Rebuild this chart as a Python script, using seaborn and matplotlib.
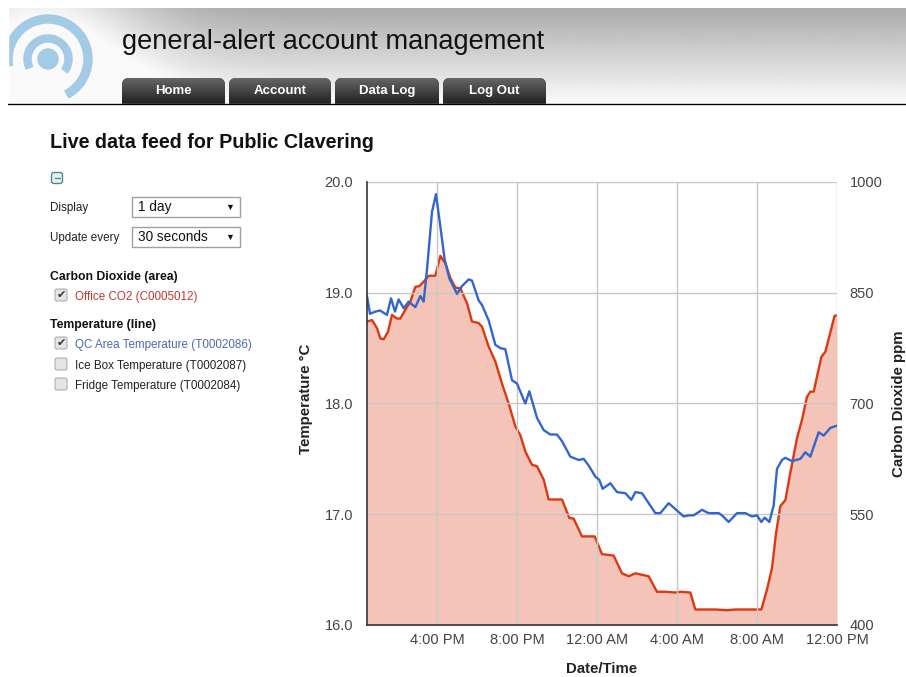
import numpy as np
import pandas as pd
import seaborn as sns
import matplotlib
matplotlib.use("Agg")
import matplotlib.pyplot as plt
import matplotlib.dates as mdates
from matplotlib.patches import FancyBboxPatch, Rectangle, Wedge, Circle

# values (times are clock times, the day rolls over at midnight)
temp_times = ["12:30", "12:39", "12:55", "13:09", "13:30", "13:42", "13:54", "14:05", "14:20", "14:35",
              "14:55", "15:10", "15:20", "15:30", "15:45", "15:57", "16:10", "16:23", "16:37", "17:00",
              "17:15", "17:35", "17:45", "18:05", "18:15", "18:35", "18:55", "19:10", "19:25", "19:45",
              "20:00", "20:25", "20:37", "21:00", "21:20", "21:40", "22:00", "22:15", "22:40", "23:05",
              "23:20", "23:35", "23:55", "00:07", "00:17", "00:40", "01:00", "01:25", "01:43", "01:55",
              "02:15", "02:35", "02:55", "03:10", "03:35", "03:50", "04:20", "04:35", "04:50", "05:15",
              "05:35", "06:05", "06:15", "06:35", "07:00", "07:25", "07:45", "08:00", "08:13", "08:23",
              "08:37", "08:50", "09:00", "09:15", "09:25", "09:45", "10:10", "10:25", "10:40", "11:05",
              "11:20", "11:40", "12:00"]
temp_values = [18.97, 18.81, 18.83, 18.84, 18.80, 18.95, 18.83, 18.94, 18.86, 18.92,
               18.87, 18.97, 18.92, 19.21, 19.73, 19.89, 19.60, 19.30, 19.13, 18.99,
               19.06, 19.12, 19.11, 18.93, 18.89, 18.75, 18.53, 18.50, 18.49, 18.21,
               18.18, 18.00, 18.11, 17.87, 17.76, 17.72, 17.72, 17.66, 17.52, 17.49,
               17.50, 17.44, 17.34, 17.31, 17.23, 17.28, 17.20, 17.19, 17.13, 17.20,
               17.19, 17.10, 17.01, 17.01, 17.10, 17.06, 16.98, 16.99, 16.99, 17.04,
               17.01, 17.01, 16.99, 16.93, 17.01, 17.01, 16.98, 16.99, 16.93, 16.97,
               16.93, 17.08, 17.41, 17.49, 17.51, 17.48, 17.50, 17.56, 17.52, 17.74,
               17.71, 17.78, 17.80]

co2_times = ["12:30", "12:45", "13:00", "13:10", "13:20", "13:33", "13:45", "14:00", "14:10", "14:25",
             "14:40", "14:55", "15:07", "15:20", "15:35", "15:55", "16:10", "16:25", "16:40", "16:55",
             "17:10", "17:30", "17:45", "18:05", "18:15", "18:35", "18:55", "19:15", "19:35", "19:55",
             "20:10", "20:25", "20:45", "21:00", "21:20", "21:35", "21:55", "22:15", "22:37", "22:50",
             "23:15", "23:35", "23:53", "00:15", "00:50", "01:15", "01:35", "01:55", "02:35", "03:00",
             "03:25", "03:55", "04:10", "04:40", "04:55", "05:25", "05:55", "06:30", "06:55", "07:35",
             "08:13", "08:30", "08:45", "08:57", "09:10", "09:25", "09:40", "10:00", "10:15", "10:30",
             "10:40", "10:50", "11:13", "11:25", "11:53", "12:00"]
co2_values = [811, 813, 802, 788, 787, 797, 820, 815, 815, 827,
              838, 858, 859, 865, 873, 873, 900, 890, 870, 857,
              856, 836, 811, 809, 804, 777, 757, 727, 700, 669,
              657, 635, 617, 615, 597, 570, 570, 570, 545, 544,
              520, 520, 520, 496, 494, 470, 466, 470, 466, 445,
              445, 444, 445, 444, 421, 421, 421, 420, 421, 421,
              421, 448, 477, 524, 561, 569, 606, 653, 678, 709,
              716, 716, 763, 770, 819, 819]

temp_ticks = [16.0, 17.0, 18.0, 19.0, 20.0]
co2_ticks = [400, 550, 700, 850, 1000]

BASE_DAY = pd.Timestamp("2014-03-10")


def to_datetimes(times):
    out = []
    day = 0
    prev = -1
    for t in times:
        h, m = map(int, t.split(":"))
        mins = h * 60 + m
        if mins < prev:
            day += 1
        prev = mins
        out.append(BASE_DAY + pd.Timedelta(days=day, minutes=mins))
    return out


temp_df = pd.DataFrame({"time": to_datetimes(temp_times), "temp": temp_values})
co2_df = pd.DataFrame({"time": to_datetimes(co2_times), "co2": co2_values})

sns.set_style("white")
plt.rcParams["font.family"] = ["Liberation Sans", "DejaVu Sans"]

fig = plt.figure(figsize=(9.06, 6.77), dpi=100)

# ---- page (pixel coordinates) ----
page = fig.add_axes([0, 0, 1, 1])
page.set_xlim(0, 906)
page.set_ylim(677, 0)
page.axis("off")
page.set_zorder(0)

# header gradient
gy = np.linspace(0, 1, 100)[:, None]
gx = np.linspace(8, 906, 400)[None, :]
shade = 0.67 + 0.31 * gy + 0.28 * np.exp(-((gx - 40) / 110.0) ** 2)
shade = np.clip(shade, 0, 0.98)
page.imshow(shade, cmap="gray", vmin=0, vmax=1, extent=[8, 906, 103, 8], aspect="auto", zorder=1)

# logo
logo_col = "#a3cbe5"
page.add_patch(Circle((48, 59), 10, color=logo_col, zorder=2))
page.add_patch(Wedge((48, 59), 24, -205, 35, width=7, color=logo_col, zorder=2))
page.add_patch(Wedge((48, 59), 44, -190, 62, width=8, color=logo_col, zorder=2))
page.add_patch(Rectangle((0, 0), 8, 110, color="white", zorder=3))

page.text(122, 42, "general-alert account management", fontsize=19.6, color="#111111",
          va="center", ha="left", zorder=4)

# tabs
tab_grad = np.linspace(0.40, 0.13, 50)[:, None] * np.ones((1, 10))
for label, x0, x1 in [("Home", 122, 225), ("Account", 229, 331), ("Data Log", 335, 439), ("Log Out", 443, 546)]:
    tab = FancyBboxPatch((x0, 78), x1 - x0, 36, boxstyle="round,pad=0,rounding_size=7",
                         fc="#2a2a2a", ec="none", zorder=4)
    page.add_patch(tab)
    im = page.imshow(tab_grad, cmap="gray", vmin=0, vmax=1, extent=[x0, x1, 104, 78],
                     aspect="auto", zorder=5)
    im.set_clip_path(tab)
    page.text((x0 + x1) / 2, 91, label, fontsize=9.5, fontweight="bold", color="white",
              ha="center", va="center", zorder=6)
page.add_patch(Rectangle((100, 104), 500, 14, color="white", zorder=7))
page.plot([8, 906], [103.5, 103.5], color="black", lw=1, zorder=8)

page.text(50, 143, "Live data feed for Public Clavering", fontsize=14.2, fontweight="bold",
          color="#111111", va="center", ha="left")

# collapse icon
page.add_patch(FancyBboxPatch((51.5, 172.5), 11, 11, boxstyle="round,pad=0,rounding_size=2.5",
                              fc="#e8f0f0", ec="#4f8a8f", lw=1))
page.plot([54.5, 59.5], [178, 178], color="#4f8a8f", lw=1)

# controls
for label, value, yc in [("Display", "1 day", 207), ("Update every", "30 seconds", 237)]:
    page.text(50, yc + 1, label, fontsize=8.4, color="#222222", va="center", ha="left")
    page.add_patch(Rectangle((132, yc - 10), 108, 20, fc="white", ec="#a0a0a0", lw=1))
    page.text(138, yc, value, fontsize=9.8, color="#111111", va="center", ha="left")
    page.text(230, yc, "▼", fontsize=6.5, color="#111111", va="center", ha="center")


def checkbox(yc, checked):
    page.add_patch(FancyBboxPatch((55, yc - 6), 12, 12, boxstyle="round,pad=0,rounding_size=2",
                                  fc="#e4e4e4", ec="#b0b0b0", lw=0.8))
    if checked:
        page.text(61, yc, "✔", fontsize=8, color="#333333", va="center", ha="center")


page.text(50, 277, "Carbon Dioxide (area)", fontsize=8.8, fontweight="bold", color="#111111", va="center")
checkbox(295, True)
page.text(75, 297, "Office CO2 (C0005012)", fontsize=8.4, color="#c0392b", va="center")
page.text(50, 325, "Temperature (line)", fontsize=8.8, fontweight="bold", color="#111111", va="center")
checkbox(343, True)
page.text(75, 345, "QC Area Temperature (T0002086)", fontsize=8.4, color="#4a6cb3", va="center")
checkbox(364, False)
page.text(75, 366, "Ice Box Temperature (T0002087)", fontsize=8.4, color="#222222", va="center")
checkbox(384, False)
page.text(75, 386, "Fridge Temperature (T0002084)", fontsize=8.4, color="#222222", va="center")

# ---- chart ----
ax = fig.add_axes([367 / 906, (677 - 625) / 677, 470 / 906, 443 / 677])
ax2 = ax.twinx()
ax2.set_zorder(1)
ax.set_zorder(2)
ax.patch.set_visible(False)

ax2.fill_between(co2_df["time"], 400, co2_df["co2"], color="#f5c4b8", lw=0)
sns.lineplot(data=co2_df, x="time", y="co2", ax=ax2, color="#dc3912", lw=1.7)
sns.lineplot(data=temp_df, x="time", y="temp", ax=ax, color="#3366cc", lw=1.7)

x_start = BASE_DAY + pd.Timedelta(hours=12, minutes=30)
x_end = BASE_DAY + pd.Timedelta(days=1, hours=12)
ax.set_xlim(x_start, x_end)
ax.set_ylim(16, 20)
ax2.set_ylim(400, 1000)
ax.set_yticks(temp_ticks)
ax.set_yticklabels([f"{v:.1f}" for v in temp_ticks])
ax2.set_yticks(co2_ticks)
ax2.set_yticklabels([str(v) for v in co2_ticks])
ax.xaxis.set_major_locator(mdates.HourLocator(byhour=[0, 4, 8, 12, 16, 20]))
ax.xaxis.set_major_formatter(mdates.DateFormatter("%-I:%M %p"))

ax.grid(True, color="#c8c8c8", lw=1)
ax2.grid(False)
for s in ["top", "right"]:
    ax.spines[s].set_visible(False)
for s in ax2.spines.values():
    s.set_visible(False)
ax.spines["left"].set_color("#333333")
ax.spines["bottom"].set_color("#333333")
ax.spines["left"].set_linewidth(1.2)
ax.spines["bottom"].set_linewidth(1.2)

ax.tick_params(axis="y", length=0, pad=10, labelsize=10.5, labelcolor="#444444")
ax.tick_params(axis="x", length=0, pad=6, labelsize=10.5, labelcolor="#444444")
ax2.tick_params(axis="y", length=0, pad=9, labelsize=10.5, labelcolor="#444444")

ax.set_xlabel("Date/Time", fontsize=10.8, fontweight="bold", color="#222222")
ax.set_ylabel("Temperature °C", fontsize=10.8, fontweight="bold", color="#222222")
ax2.set_ylabel("Carbon Dioxide ppm", fontsize=10.8, fontweight="bold", color="#222222")
ax.xaxis.set_label_coords(0.5, -0.084)
ax.yaxis.set_label_coords(-0.115, 0.51)
ax2.yaxis.set_label_coords(1.117, 0.5)

fig.savefig("out.png", dpi=100)
